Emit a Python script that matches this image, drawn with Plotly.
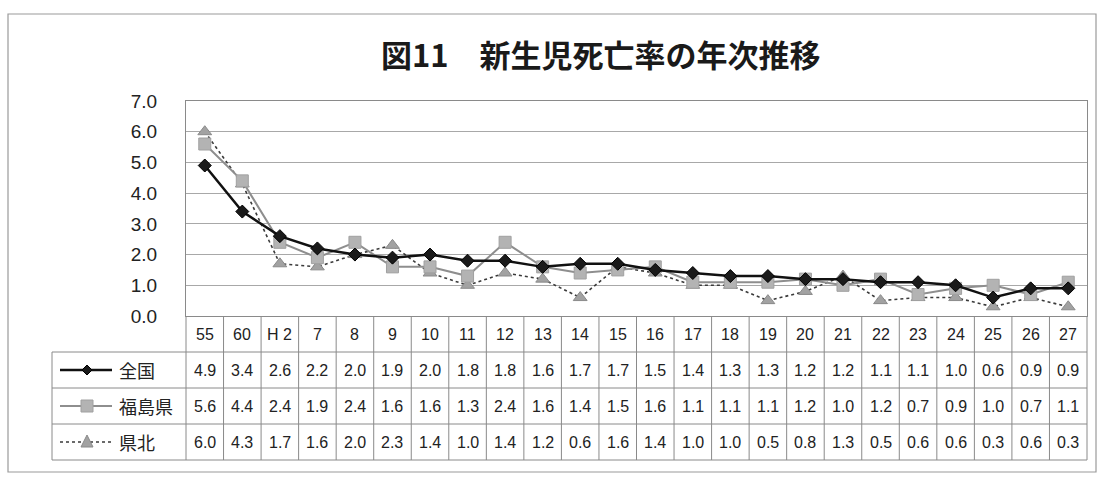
import plotly.graph_objects as go

# 新生児死亡率（出生千対）の年次推移
years = ["55", "60", "H 2", "7", "8", "9", "10", "11", "12", "13", "14", "15",
         "16", "17", "18", "19", "20", "21", "22", "23", "24", "25", "26", "27"]
zenkoku = [4.9, 3.4, 2.6, 2.2, 2.0, 1.9, 2.0, 1.8, 1.8, 1.6, 1.7, 1.7,
           1.5, 1.4, 1.3, 1.3, 1.2, 1.2, 1.1, 1.1, 1.0, 0.6, 0.9, 0.9]
fukushima = [5.6, 4.4, 2.4, 1.9, 2.4, 1.6, 1.6, 1.3, 2.4, 1.6, 1.4, 1.5,
             1.6, 1.1, 1.1, 1.1, 1.2, 1.0, 1.2, 0.7, 0.9, 1.0, 0.7, 1.1]
kenpoku = [6.0, 4.3, 1.7, 1.6, 2.0, 2.3, 1.4, 1.0, 1.4, 1.2, 0.6, 1.6,
           1.4, 1.0, 1.0, 0.5, 0.8, 1.3, 0.5, 0.6, 0.6, 0.3, 0.6, 0.3]
series_names = ["全国", "福島県", "県北"]
y_ticks = [0, 1, 2, 3, 4, 5, 6, 7]

W, H = 1098, 480
L, R, T, B = 186, 1087, 101, 316  # plot area in pixels

def px(x):
    return (x - L) / (R - L)

def py(y):
    return (B - y) / (B - T)

GRID = "#a8a8a8"
FONT = "Liberation Sans, Arial, sans-serif"
JFONT = "Noto Sans CJK JP, sans-serif"

styles = {
    "全国": dict(line=dict(color="#111111", width=2.5),
               marker=dict(symbol="diamond", size=10, color="#1a1a1a",
                           line=dict(color="#000000", width=1))),
    "福島県": dict(line=dict(color="#8e8e8e", width=2),
                marker=dict(symbol="square", size=12, color="#b3b3b3",
                            line=dict(color="#a0a0a0", width=1))),
    "県北": dict(line=dict(color="#3a3a3a", width=1.6, dash="dot"),
               marker=dict(symbol="triangle-up", size=12, color="#a2a2a2",
                           line=dict(color="#8a8a8a", width=1))),
}
values = {"全国": zenkoku, "福島県": fukushima, "県北": kenpoku}

fig = go.Figure()
for name in ["県北", "福島県", "全国"]:
    fig.add_trace(go.Scatter(x=years, y=values[name], name=name,
                             mode="lines+markers", showlegend=False,
                             cliponaxis=False, **styles[name]))

shapes = []
annotations = []

# outer frame
shapes.append(dict(type="rect", xref="paper", yref="paper",
                   x0=px(8), x1=px(1096), y0=py(472), y1=py(14),
                   line=dict(color="#9a9a9a", width=1.2), layer="below"))

# data table grid
row_edges = [352, 388, 424, 460]
for ry in row_edges:
    shapes.append(dict(type="line", xref="paper", yref="paper",
                       x0=px(52), x1=1, y0=py(ry), y1=py(ry),
                       line=dict(color="#8a8a8a", width=1)))
shapes.append(dict(type="line", xref="paper", yref="paper",
                   x0=px(52), x1=px(52), y0=py(352), y1=py(460),
                   line=dict(color="#8a8a8a", width=1)))
for xr in [0, 1]:
    shapes.append(dict(type="line", xref="paper", yref="paper",
                       x0=xr, x1=xr, y0=0, y1=py(460),
                       line=dict(color="#8a8a8a", width=1)))
for i in range(1, len(years)):
    shapes.append(dict(type="line", xref="x", yref="paper",
                       x0=i - 0.5, x1=i - 0.5, y0=0, y1=py(460),
                       line=dict(color="#8a8a8a", width=1)))

# category row
for i, yr in enumerate(years):
    annotations.append(dict(x=i, y=py(334), xref="x", yref="paper",
                            text=yr, showarrow=False,
                            xanchor="center", yanchor="middle",
                            font=dict(family=FONT, size=16, color="#222")))

# value rows with legend keys
row_centers = [370, 406, 442]
for name, cy in zip(series_names, row_centers):
    for i, v in enumerate(values[name]):
        annotations.append(dict(x=i, y=py(cy), xref="x", yref="paper",
                                text=f"{v:.1f}", showarrow=False,
                                xanchor="center", yanchor="middle",
                                font=dict(family=FONT, size=16, color="#222")))
    annotations.append(dict(x=px(117), y=py(cy), xref="paper", yref="paper",
                            text=name, showarrow=False,
                            xanchor="left", yanchor="middle",
                            font=dict(family=JFONT, size=18, color="#222")))
    st = styles[name]
    shapes.append(dict(type="line", xref="paper", yref="paper",
                       x0=px(60), x1=px(112), y0=py(cy), y1=py(cy),
                       line=dict(color=st["line"]["color"],
                                 width=st["line"]["width"],
                                 dash=st["line"].get("dash", "solid"))))
    cx = 87
    if name == "全国":
        d = 5
        path = (f"M {px(cx - d)},{py(cy)} L {px(cx)},{py(cy - d)} "
                f"L {px(cx + d)},{py(cy)} L {px(cx)},{py(cy + d)} Z")
    elif name == "福島県":
        d = 6
        path = (f"M {px(cx - d)},{py(cy - d)} L {px(cx + d)},{py(cy - d)} "
                f"L {px(cx + d)},{py(cy + d)} L {px(cx - d)},{py(cy + d)} Z")
    else:
        d = 6
        path = (f"M {px(cx - d)},{py(cy + 5)} L {px(cx + d)},{py(cy + 5)} "
                f"L {px(cx)},{py(cy - 7)} Z")
    shapes.append(dict(type="path", xref="paper", yref="paper", path=path,
                       fillcolor=st["marker"]["color"],
                       line=dict(color=st["marker"]["line"]["color"], width=1)))

# title
annotations.append(dict(x=px(601), y=py(53), xref="paper", yref="paper",
                        text="<b>図11　新生児死亡率の年次推移</b>",
                        showarrow=False, xanchor="center", yanchor="middle",
                        font=dict(family=JFONT, size=31, color="#1a1a1a")))

fig.update_layout(
    width=W, height=H,
    margin=dict(l=L, r=W - R, t=T, b=H - B, pad=0),
    paper_bgcolor="white", plot_bgcolor="white",
    shapes=shapes, annotations=annotations,
    xaxis=dict(type="category", categoryorder="array", categoryarray=years,
               range=[-0.5, len(years) - 0.5], showticklabels=False,
               showgrid=False, zeroline=False, showline=True,
               linecolor="#8a8a8a", linewidth=1, mirror=True, ticks=""),
    yaxis=dict(range=[0, 7], tickvals=y_ticks,
               ticktext=[f"{t:.1f}" for t in y_ticks],
               showgrid=True, gridcolor=GRID, gridwidth=1.2, zeroline=False,
               showline=True, linecolor="#8a8a8a", linewidth=1, mirror=True,
               ticks="", ticklabelstandoff=24,
               tickfont=dict(family=FONT, size=19, color="#222")),
)

fig.write_html("out.html")
